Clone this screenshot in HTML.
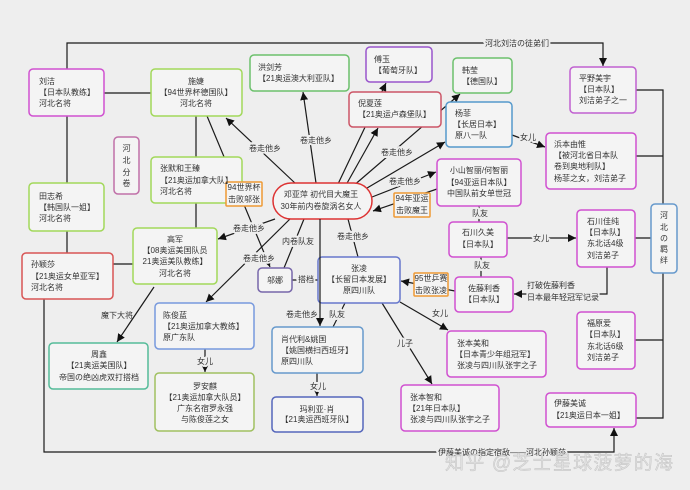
<!DOCTYPE html>
<html><head><meta charset="utf-8"><style>
html,body{margin:0;padding:0;background:#eeeeee;}
svg{display:block}
text{font-family:"Liberation Sans","Noto Sans CJK SC",sans-serif;font-size:8px;fill:#333}
.h{paint-order:stroke;stroke:#eeeeee;stroke-width:4px;stroke-linejoin:round}
.m{text-anchor:middle}
</style></head><body>
<svg width="690" height="490" viewBox="0 0 690 490" xmlns="http://www.w3.org/2000/svg">
<defs><marker id="a" viewBox="0 0 10 10" refX="10" refY="5" markerWidth="8" markerHeight="8" markerUnits="userSpaceOnUse" orient="auto"><path d="M0,0L10,5L0,10z" fill="#111"/></marker></defs>
<rect width="690" height="490" fill="#eeeeee"/>
<g stroke="#1a1a1a" stroke-width="1.2" fill="none">
 <path d="M67,69V43H603V66" marker-end="url(#a)"/>
 <path d="M67,116V183M67,231V253"/>
 <path d="M44,299V452H614V428" marker-end="url(#a)"/>
 <path d="M104,93H151M196,116V157M196,203V228M113,264H133"/>
 <path d="M154,287L117,342" marker-end="url(#a)"/>
 <path d="M205,349V372" marker-end="url(#a)"/>
 <path d="M207,116L270,267" marker-end="url(#a)"/>
 <path d="M296,184L226,118" marker-end="url(#a)"/>
 <path d="M316,183L303,92" marker-end="url(#a)"/>
 <path d="M338,184L386,83" marker-end="url(#a)"/>
 <path d="M346,185L378,128" marker-end="url(#a)"/>
 <path d="M352,187L460,94" marker-end="url(#a)"/>
 <path d="M362,191L445,142" marker-end="url(#a)"/>
 <path d="M372,197L436,172" marker-end="url(#a)"/>
 <path d="M437,189L373,211" marker-end="url(#a)"/>
 <path d="M275,219L218,239" marker-end="url(#a)"/>
 <path d="M292,217L206,302" marker-end="url(#a)"/>
 <path d="M304,219L284,268"/>
 <path d="M348,219L358,257"/>
 <path d="M292,280H318"/>
 <path d="M345,303L333,327"/>
 <path d="M400,302L448,330" marker-end="url(#a)"/>
 <path d="M382,303L432,384" marker-end="url(#a)"/>
 <path d="M455,291L401,281" marker-end="url(#a)"/>
 <path d="M479,206V222M481,257V277"/>
 <path d="M507,238H576" marker-end="url(#a)"/>
 <path d="M607,267V294H514" marker-end="url(#a)"/>
 <path d="M512,135L545,147" marker-end="url(#a)"/>
 <path d="M317,373V396" marker-end="url(#a)"/>
 <path d="M636,90H663V418H636M636,156H663M635,238H651M635,340H663"/>
</g>
<g fill="#f4f4f4" stroke-width="1.5">
 <rect x="29" y="69" width="75" height="47" rx="4" stroke="#d050d0"/>
 <rect x="151" y="69" width="91" height="47" rx="4" stroke="#a2d85a"/>
 <rect x="114" y="137" width="25" height="57" rx="4" stroke="#c070a8"/>
 <rect x="151" y="157" width="91" height="46" rx="4" stroke="#a2d85a"/>
 <rect x="29" y="183" width="75" height="48" rx="4" stroke="#a2d85a"/>
 <rect x="22" y="253" width="91" height="46" rx="4" stroke="#d85555"/>
 <rect x="133" y="228" width="84" height="56" rx="4" stroke="#a2d85a"/>
 <rect x="49" y="343" width="99" height="46" rx="4" stroke="#55bb99"/>
 <rect x="155" y="303" width="99" height="46" rx="4" stroke="#7799dd"/>
 <rect x="155" y="373" width="99" height="58" rx="4" stroke="#a0c060"/>
 <rect x="273" y="183" width="99" height="36" rx="18" stroke="#dd3333"/>
 <rect x="250" y="55" width="99" height="36" rx="4" stroke="#6cc06c"/>
 <rect x="366" y="47" width="66" height="35" rx="4" stroke="#9955cc"/>
 <rect x="349" y="92" width="92" height="35" rx="4" stroke="#cc5566"/>
 <rect x="453" y="58" width="59" height="35" rx="4" stroke="#6cc06c"/>
 <rect x="446" y="102" width="66" height="45" rx="4" stroke="#5599cc"/>
 <rect x="570" y="67" width="66" height="46" rx="4" stroke="#c060d0"/>
 <rect x="546" y="133" width="90" height="56" rx="4" stroke="#d050d0"/>
 <rect x="437" y="159" width="84" height="47" rx="4" stroke="#d050d0"/>
 <rect x="449" y="222" width="58" height="35" rx="4" stroke="#d050d0"/>
 <rect x="577" y="210" width="58" height="57" rx="4" stroke="#d050d0"/>
 <rect x="455" y="277" width="58" height="35" rx="4" stroke="#d050d0"/>
 <rect x="651" y="204" width="26" height="69" rx="4" stroke="#6699cc"/>
 <rect x="318" y="257" width="82" height="46" rx="4" stroke="#6677cc"/>
 <rect x="258" y="268" width="34" height="24" rx="4" stroke="#7766aa"/>
 <rect x="272" y="327" width="91" height="46" rx="4" stroke="#6699cc"/>
 <rect x="272" y="397" width="91" height="35" rx="4" stroke="#5566bb"/>
 <rect x="447" y="331" width="99" height="46" rx="4" stroke="#d050d0"/>
 <rect x="401" y="385" width="98" height="46" rx="4" stroke="#d050d0"/>
 <rect x="577" y="312" width="58" height="57" rx="4" stroke="#d050d0"/>
 <rect x="546" y="393" width="90" height="34" rx="4" stroke="#d050d0"/>
 <rect x="226" y="182" width="36" height="24" rx="1" stroke="#ee9933"/>
 <rect x="394" y="193" width="36" height="24" rx="1" stroke="#ee9933"/>
 <rect x="414" y="273" width="34" height="23" rx="1" stroke="#ee9933"/>
</g>
<path d="M320,219V326" stroke="#1a1a1a" stroke-width="1.2" fill="none" marker-end="url(#a)"/>

<text x="39" y="84">刘洁</text><text x="39" y="95">【日本队教练】</text><text x="39" y="106">河北名将</text>
<g class="m"><text x="196" y="84">施婕</text><text x="196" y="95">【94世界杯德国队】</text><text x="196" y="106">河北名将</text></g>
<g class="m"><text x="126.5" y="151">河</text><text x="126.5" y="163">北</text><text x="126.5" y="175">分</text><text x="126.5" y="186">卷</text></g>
<text x="160" y="171">张默和王臻</text><text x="160" y="183">【21奥运加拿大队】</text><text x="160" y="194">河北名将</text>
<text x="39" y="199">田志希</text><text x="39" y="210">【韩国队一姐】</text><text x="39" y="221">河北名将</text>
<text x="31" y="267">孙颖莎</text><text x="31" y="279">【21奥运女单亚军】</text><text x="31" y="290">河北名将</text>
<g class="m"><text x="175" y="242">高军</text><text x="175" y="253">【08奥运美国队员</text><text x="175" y="264">21奥运美队教练】</text><text x="175" y="276">河北名将</text></g>
<g class="m"><text x="99" y="357">周鑫</text><text x="99" y="368">【21奥运美国队】</text><text x="99" y="380">帝国の绝凶虎双打搭档</text></g>
<text x="163" y="318">陈俊蓝</text><text x="163" y="329">【21奥运加拿大教练】</text><text x="163" y="340">原广东队</text>
<g class="m"><text x="205" y="389">罗安麒</text><text x="205" y="400">【21奥运加拿大队员】</text><text x="205" y="411">广东名宿罗永强</text><text x="205" y="422">与陈俊莲之女</text></g>
<g class="m"><text x="321" y="197">邓亚萍 初代目大魔王</text><text x="321" y="209">30年前内卷旋涡名女人</text></g>
<text x="258" y="70">洪剑芳</text><text x="258" y="81">【21奥运澳大利亚队】</text>
<text x="374" y="62">傅玉</text><text x="374" y="73">【葡萄牙队】</text>
<text x="358" y="106">倪夏莲</text><text x="358" y="117">【21奥运卢森堡队】</text>
<text x="462" y="73">韩莹</text><text x="462" y="84">【德国队】</text>
<text x="455" y="116">杨菲</text><text x="453" y="127">【长居日本】</text><text x="455" y="138">原八一队</text>
<text x="579" y="81">平野美宇</text><text x="579" y="92">【日本队】</text><text x="579" y="103">刘洁弟子之一</text>
<text x="554" y="147">浜本由惟</text><text x="554" y="158">【被河北省日本队</text><text x="554" y="169">卷到奥地利队】</text><text x="554" y="181">杨菲之女，刘洁弟子</text>
<g class="m"><text x="479" y="173">小山智丽/何智丽</text><text x="479" y="185">【94亚运日本队】</text><text x="479" y="196">中国队前女单世冠</text></g>
<g class="m"><text x="412" y="201">94年亚运</text><text x="412" y="213">击败魔王</text></g>
<g class="m"><text x="478" y="235">石川久美</text><text x="478" y="247">【日本队】</text></g>
<text x="587" y="224">石川佳纯</text><text x="585" y="235">【日本队】</text><text x="587" y="246">东北话4级</text><text x="587" y="258">刘洁弟子</text>
<g class="m"><text x="484" y="291">佐藤利香</text><text x="484" y="302">【日本队】</text></g>
<g class="m"><text x="664" y="218">河</text><text x="664" y="230">北</text><text x="664" y="241">の</text><text x="664" y="252">羁</text><text x="664" y="263">绊</text></g>
<g class="m"><text x="431" y="281">95世乒赛</text><text x="431" y="293">击败张凌</text></g>
<g class="m"><text x="359" y="271">张凌</text><text x="359" y="282">【长留日本发展】</text><text x="359" y="293">原四川队</text></g>
<text class="m" x="275" y="283">邬娜</text>
<text x="281" y="342">肖代利&amp;姚国</text><text x="281" y="353">【姚国横扫西班牙】</text><text x="281" y="364">原四川队</text>
<g class="m"><text x="317" y="412">玛利亚·肖</text><text x="317" y="422">【21奥运西班牙队】</text></g>
<text x="457" y="346">张本美和</text><text x="455" y="357">【日本青少年组冠军】</text><text x="457" y="368">张凌与四川队张宇之子</text>
<text x="410" y="400">张本智和</text><text x="408" y="411">【21年日本队】</text><text x="410" y="422">张凌与四川队张宇之子</text>
<text x="587" y="326">福原爱</text><text x="585" y="337">【日本队】</text><text x="587" y="349">东北话6级</text><text x="587" y="360">刘洁弟子</text>
<text x="554" y="406">伊藤美诚</text><text x="552" y="418">【21奥运日本一姐】</text>
<g class="m"><text x="244" y="190">94世界杯</text><text x="244" y="202">击败邬张</text></g>

<g class="m h">
 <text x="517" y="46">河北刘洁の徒弟们</text>
 <text x="502" y="455">伊藤美诚の指定宿敌——河北孙颖莎</text>
 <text x="265" y="151">卷走他乡</text>
 <text x="316" y="143">卷走他乡</text>
 <text x="397" y="155">卷走他乡</text>
 <text x="405" y="184">卷走他乡</text>
 <text x="249" y="231">卷走他乡</text>
 <text x="259" y="261">卷走他乡</text>
 <text x="298" y="244">内卷队友</text>
 <text x="353" y="239">卷走他乡</text>
 <text x="302" y="317">卷走他乡</text>
 <text x="337" y="317">队友</text>
 <text x="405" y="346">儿子</text>
 <text x="306" y="282">搭档</text>
 <text x="205" y="364">女儿</text>
 <text x="318" y="389">女儿</text>
 <text x="480" y="216">队友</text>
 <text x="482" y="268">队友</text>
 <text x="541" y="241">女儿</text>
 <text x="528" y="140">女儿</text>
</g>
<text x="440" y="316" class="m">女儿</text>
<text x="133" y="318" style="text-anchor:end">魔下大将</text>
<g class="h"><text x="527" y="288">打破佐藤利香</text><text x="527" y="300">日本最年轻冠军记录</text></g>

<text x="445" y="469" textLength="228" lengthAdjust="spacing" style="font-size:19px;fill:#dedede;stroke:#b8b8b8;stroke-width:0.4px;opacity:0.85">知乎 @芝士星球菠萝的海</text>
</svg>
</body></html>
